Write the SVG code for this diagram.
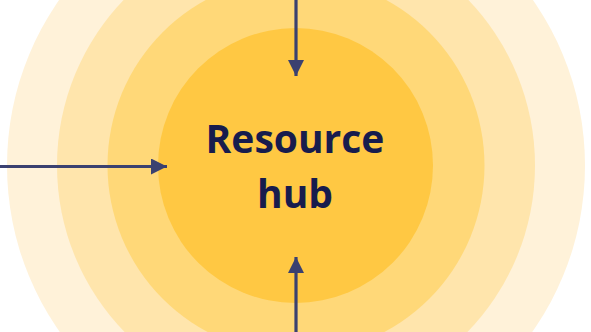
<svg xmlns="http://www.w3.org/2000/svg" width="591" height="332" viewBox="0 0 591 332">
  <style>
    .ring1 { fill: #FFF2D9; }
    .ring2 { fill: #FFE5AC; }
    .ring3 { fill: #FFD878; }
    .core { fill: #FFC843; }
    .link { stroke: #3B4170; stroke-width: 3.2; fill: none; }
    .label { font-family: "Open Sans", "Liberation Sans", sans-serif; font-weight: 700; font-size: 39px; fill: #171C4D; text-anchor: middle; }
  </style>
  <defs>
    <marker id="head" viewBox="0 0 16 16" refX="16" refY="8" markerWidth="16" markerHeight="16" markerUnits="userSpaceOnUse" orient="auto">
      <path d="M0,0 L16,8 L0,16 Z" fill="#3B4170"/>
    </marker>
  </defs>
  <rect width="591" height="332" fill="#FFFFFF"/>
  <g id="rings">
    <circle class="ring1" cx="296" cy="165.5" r="289"/>
    <circle class="ring2" cx="296" cy="165.5" r="239"/>
    <circle class="ring3" cx="296" cy="165.5" r="188.5"/>
  </g>
  <g id="hub">
    <circle class="core" cx="295.5" cy="165.5" r="137.5"/>
    <text class="label" x="295" y="153">Resource</text>
    <text class="label" x="295" y="208">hub</text>
  </g>
  <g id="connectors">
    <line class="link" x1="0" y1="166.5" x2="167" y2="166.5" marker-end="url(#head)"/>
    <line class="link" x1="296" y1="0" x2="296" y2="76" marker-end="url(#head)"/>
    <line class="link" x1="296" y1="332" x2="296" y2="257" marker-end="url(#head)"/>
  </g>
</svg>
